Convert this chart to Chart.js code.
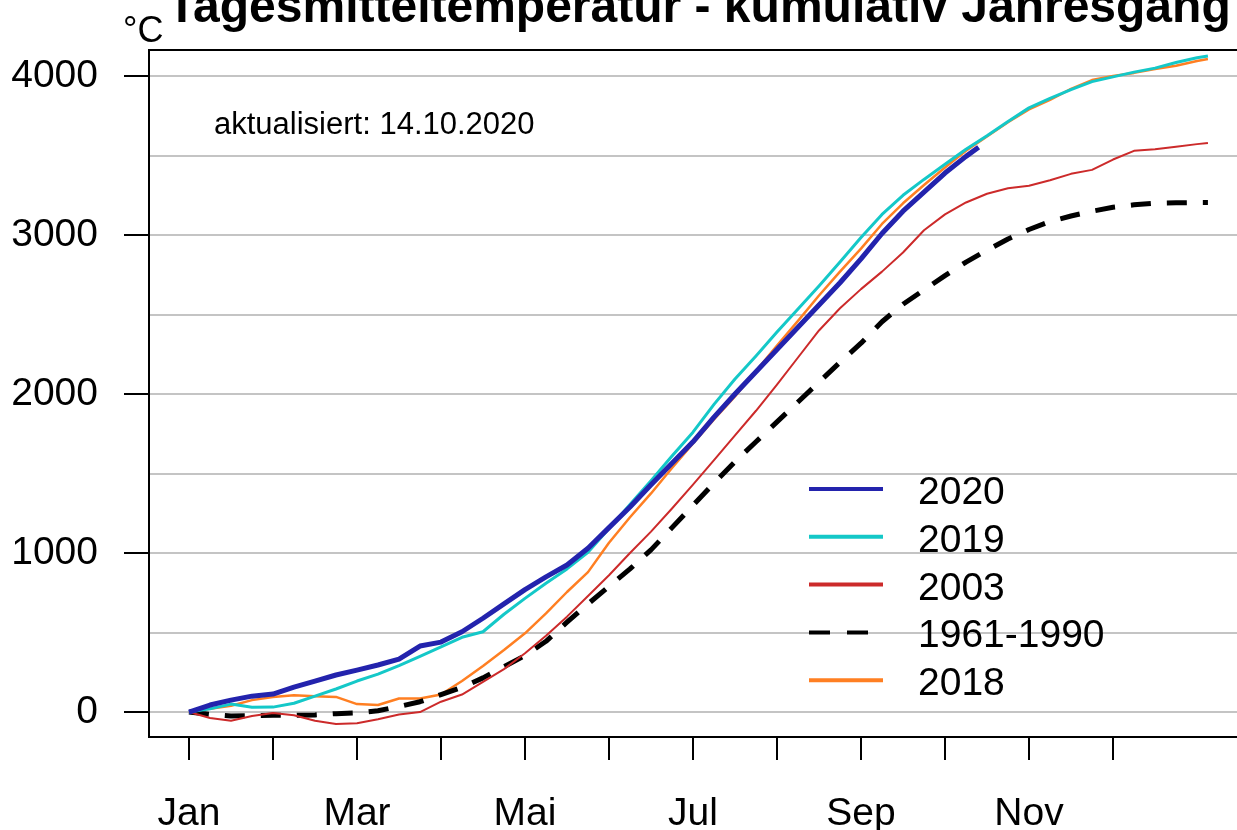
<!DOCTYPE html>
<html>
<head>
<meta charset="utf-8">
<script src="https://cdn.jsdelivr.net/npm/chart.js@4.4.0/dist/chart.umd.min.js"></script>
<style>
  html, body { margin: 0; padding: 0; background: #fff; overflow: hidden; width: 1237px; height: 830px; }
  #wrap { position: absolute; left: 0; top: 0; width: 1262px; height: 830px; }
</style>
</head>
<body>
<div id="wrap"><canvas id="c" width="1262" height="830"></canvas></div>
<script>
// ---- data (x in months since 1 Jan, y = cumulative daily mean temperature in °C) ----
const titleText = 'Tagesmitteltemperatur - kumulativ Jahresgang';
const unitText = '°C';
const updatedText = 'aktualisiert: 14.10.2020';

const monthTicks = [0, 1, 2, 3, 4, 5, 6, 7, 8, 9, 10, 11];
const monthLabels = ['Jan', '', 'Mar', '', 'Mai', '', 'Jul', '', 'Sep', '', 'Nov', ''];
const yTicks = [0, 500, 1000, 1500, 2000, 2500, 3000, 3500, 4000];

const xFull = [0, 0.25, 0.5, 0.75, 1, 1.25, 1.5, 1.75, 2, 2.25, 2.5, 2.75, 3, 3.25, 3.5, 3.75,
  4, 4.25, 4.5, 4.75, 5, 5.25, 5.5, 5.75, 6, 6.25, 6.5, 6.75, 7, 7.25, 7.5, 7.75,
  8, 8.25, 8.5, 8.75, 9, 9.25, 9.5, 9.75, 10, 10.25, 10.5, 10.75, 11, 11.25, 11.5, 11.75, 12, 12.13];
const x2020 = xFull.slice(0, 38).concat([9.4]);

const t2020 = [0, 44, 75, 100, 113, 157, 195, 233, 264, 296, 333, 415, 440,
  505, 590, 680, 770, 850, 925, 1030, 1160, 1290, 1430,
  1565, 1700, 1855, 2000, 2140, 2280, 2420, 2560, 2700, 2850,
  3010, 3150, 3270, 3390, 3495, 3553];
const t2019 = [0, 20, 50, 30, 31, 55, 100, 145, 195, 238, 292, 350, 410,
  470, 505, 615, 715, 810, 900, 1005, 1155, 1305, 1455,
  1610, 1760, 1935, 2095, 2240, 2390, 2535, 2680, 2830, 2985,
  3130, 3250, 3350, 3445, 3540, 3625, 3715, 3800, 3860, 3915,
  3965, 3995, 4025, 4050, 4085, 4115, 4126];
const t2003 = [0, -38, -55, -25, -6, -20, -55, -75, -70, -45, -15, 0, 65,
  110, 190, 270, 370, 480, 600, 730, 860, 1000, 1135,
  1280, 1430, 1585, 1740, 1895, 2060, 2230, 2400, 2540, 2660,
  2770, 2890, 3030, 3130, 3205, 3260, 3295, 3310, 3345, 3385,
  3410, 3475, 3530, 3540, 3555, 3572, 3579];
const tNorm = [0, -15, -25, -22, -20, -20, -18, -10, -5, 8, 35, 65, 110,
  155, 215, 285, 355, 445, 565, 680, 790, 900, 1020,
  1160, 1300, 1440, 1575, 1700, 1825, 1950, 2075, 2200, 2320,
  2455, 2565, 2655, 2745, 2830, 2905, 2975, 3035, 3085, 3120,
  3150, 3175, 3190, 3200, 3203, 3205, 3205];
const t2018 = [0, 20, 40, 75, 94, 105, 100, 95, 50, 44, 85, 85, 110,
  195, 290, 390, 495, 620, 755, 880, 1065, 1225, 1375,
  1535, 1690, 1840, 1985, 2145, 2305, 2460, 2620, 2770, 2915,
  3070, 3200, 3315, 3425, 3530, 3620, 3710, 3790, 3850, 3920,
  3975, 4000, 4020, 4045, 4065, 4095, 4107];

const seriesLabels = ['2020', '2019', '2003', '1961-1990', '2018'];

// ---- chart ----
const FONT = '"Liberation Sans", Arial, Helvetica, sans-serif';
Chart.defaults.font.family = FONT;
Chart.defaults.color = '#000';

const pts = (xs, ys) => ys.map((v, i) => ({ x: xs[i], y: v }));

const datasets = [
  { label: seriesLabels[0], data: pts(x2020, t2020), borderColor: '#2323ad', borderWidth: 5 },
  { label: seriesLabels[1], data: pts(xFull, t2019), borderColor: '#14c8c8', borderWidth: 3 },
  { label: seriesLabels[2], data: pts(xFull, t2003), borderColor: '#cc2a2a', borderWidth: 2 },
  { label: seriesLabels[3], data: pts(xFull, tNorm), borderColor: '#000000', borderWidth: 5, borderDash: [20, 16] },
  { label: seriesLabels[4], data: pts(xFull, t2018), borderColor: '#ff7f22', borderWidth: 2.5 }
].map(d => Object.assign({ pointRadius: 0, fill: false, tension: 0, borderJoinStyle: 'round' }, d));

const decor = {
  id: 'decor',
  afterDraw(chart) {
    const { ctx, chartArea: a } = chart;
    ctx.save();
    // plot frame
    ctx.strokeStyle = '#000';
    ctx.lineWidth = 2;
    ctx.setLineDash([]);
    ctx.strokeRect(a.left, a.top, a.right - a.left, a.bottom - a.top);
    // texts
    ctx.fillStyle = '#000';
    ctx.textBaseline = 'alphabetic';
    ctx.textAlign = 'center';
    ctx.font = 'bold 48px ' + FONT;
    ctx.fillText(titleText, (a.left + a.right) / 2, 22);
    ctx.textAlign = 'left';
    ctx.font = '36px ' + FONT;
    ctx.fillText(unitText, 123, 42);
    ctx.font = '31px ' + FONT;
    ctx.fillText(updatedText, 214, 134);
    // legend (no box)
    chart.data.datasets.forEach((ds, i) => {
      const y = 489 + i * 47.8;
      ctx.beginPath();
      ctx.strokeStyle = ds.borderColor;
      ctx.lineWidth = 4;
      if (ds.borderDash) {
        ctx.setLineDash([21, 17]);
        ctx.moveTo(809, y);
        ctx.lineTo(868, y);
      } else {
        ctx.setLineDash([]);
        ctx.moveTo(809, y);
        ctx.lineTo(883, y);
      }
      ctx.stroke();
      ctx.setLineDash([]);
      ctx.fillStyle = '#000';
      ctx.font = '39px ' + FONT;
      ctx.fillText(ds.label, 918, y + 15);
    });
    ctx.restore();
  }
};

new Chart(document.getElementById('c'), {
  type: 'line',
  data: { datasets },
  plugins: [decor],
  options: {
    responsive: false,
    animation: false,
    devicePixelRatio: 1,
    layout: { padding: { left: 0, top: 50, right: 13, bottom: 0 } },
    plugins: { legend: { display: false }, tooltip: { enabled: false }, title: { display: false } },
    scales: {
      x: {
        type: 'linear',
        min: -0.476,
        max: 12.619,
        afterBuildTicks: s => { s.ticks = monthTicks.map(v => ({ value: v })); },
        afterFit: s => { s.height = 93; },
        border: { display: false },
        grid: { drawOnChartArea: false, drawTicks: true, tickLength: 23, tickColor: '#000', tickWidth: 2, lineWidth: 2 },
        ticks: {
          autoSkip: false, maxRotation: 0, minRotation: 0, padding: 31,
          font: { size: 39 }, color: '#000',
          callback: (v, i) => monthLabels[i]
        }
      },
      y: {
        type: 'linear',
        min: -157,
        max: 4164,
        afterBuildTicks: s => { s.ticks = yTicks.map(v => ({ value: v })); },
        afterFit: s => { s.width = 149; },
        border: { display: false },
        grid: {
          color: '#c4c4c4', lineWidth: 2, drawTicks: true, tickLength: 25, tickWidth: 2,
          tickColor: c => (c.tick && c.tick.value % 1000 === 0) ? '#000' : 'rgba(0,0,0,0)'
        },
        ticks: {
          padding: 26, font: { size: 39 }, color: '#000',
          callback: v => (v % 1000 === 0 ? String(v) : '')
        }
      }
    }
  }
});
</script>
</body>
</html>
